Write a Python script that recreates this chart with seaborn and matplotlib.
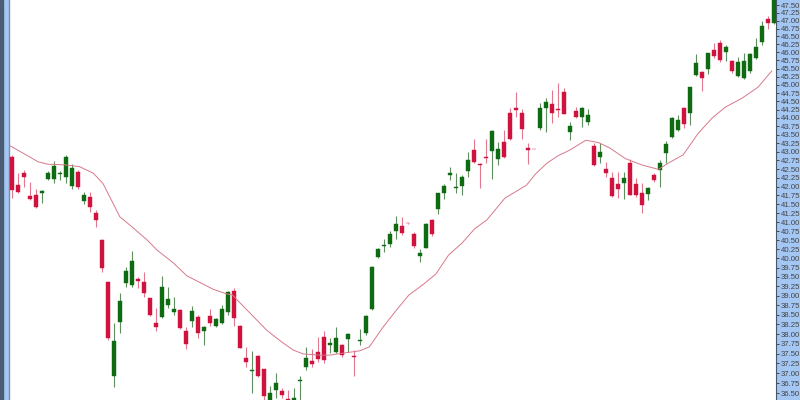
# candlestick chart with moving average, log price axis on the right
import numpy as np
import pandas as pd
import matplotlib
matplotlib.use("Agg")
import matplotlib.pyplot as plt
from matplotlib.patches import Rectangle
from matplotlib.ticker import FixedLocator, FormatStrFormatter, NullLocator
import seaborn as sns

# ======== DATA =========
opens = [42.86, 42.04, 42.38, 41.73, 41.76, 41.81, 42.22, 42.22, 42.35, 42.26,
         42.01, 42.42, 41.60, 41.71, 41.26, 40.50, 39.37, 36.93, 38.32, 39.35,
         39.28, 39.44, 39.37, 38.93, 38.29, 38.45, 38.76, 38.56, 38.62, 38.09,
         38.35, 38.43, 38.07, 38.47, 38.21, 38.28, 38.58, 39.13, 38.21, 37.38,
         37.05, 37.45, 37.10, 36.27, 36.58, 36.56, 36.36, 36.24, 36.80, 37.15,
         37.32, 37.55, 37.92, 37.72, 37.55, 37.73, 37.86, 37.44, 37.82, 38.03,
         38.64, 40.03, 40.34, 40.39, 40.76, 40.90, 40.97, 40.67, 40.07, 40.29,
         41.06, 41.36, 41.82, 42.33, 41.96, 42.02, 42.45, 43.05, 42.63, 42.86,
         43.03, 42.78, 43.29, 44.14, 44.30, 44.14, 43.10, 43.08, 43.69, 44.29,
         44.42, 44.26, 44.79, 43.59, 44.21, 44.02, 43.89, 43.17, 42.86, 42.49,
         42.23, 42.07, 42.09, 42.68, 42.06, 41.82, 41.79, 42.33, 42.47, 42.96,
         43.43, 43.64, 44.29, 44.14, 45.30, 45.40, 45.48, 46.08, 46.30, 46.02,
         45.74, 45.27, 45.20, 45.43, 45.83, 46.34, 47.05, 46.94]
highs = [42.91, 42.38, 42.47, 42.14, 41.92, 41.90, 42.45, 42.74, 42.45, 42.91,
         42.64, 42.47, 41.85, 41.84, 41.34, 40.53, 39.40, 38.29, 39.06, 39.78,
         40.21, 39.51, 39.64, 38.94, 38.68, 39.52, 39.24, 38.97, 38.65, 38.19,
         38.73, 38.49, 38.21, 38.64, 38.42, 38.76, 39.13, 39.20, 38.23, 37.67,
         37.56, 37.46, 37.11, 36.68, 37.00, 36.63, 36.58, 36.63, 36.94, 37.67,
         37.61, 37.92, 38.09, 37.89, 38.19, 37.74, 38.03, 37.59, 38.14, 38.49,
         39.80, 40.28, 40.52, 40.76, 41.17, 41.15, 40.98, 40.73, 40.25, 40.98,
         41.08, 41.82, 42.07, 42.57, 42.38, 42.33, 43.00, 43.37, 42.67, 43.37,
         43.63, 43.30, 43.64, 44.29, 44.79, 44.27, 43.27, 43.08, 44.44, 44.59,
         44.84, 45.04, 44.89, 43.89, 44.34, 44.34, 44.26, 43.25, 43.25, 42.71,
         42.42, 42.42, 42.42, 42.78, 42.23, 42.11, 41.99, 42.40, 42.76, 43.33,
         44.02, 44.09, 44.34, 44.94, 45.95, 45.43, 45.99, 46.30, 46.39, 46.23,
         45.76, 45.87, 45.97, 45.97, 46.44, 47.00, 47.15, 48.30]
lows = [41.67, 41.82, 41.99, 41.62, 41.40, 41.54, 42.19, 42.09, 42.19, 42.09,
        41.92, 41.92, 41.50, 41.29, 40.87, 39.64, 37.85, 36.65, 38.02, 39.24,
        39.24, 39.20, 38.97, 38.47, 38.08, 38.41, 38.67, 38.49, 38.12, 37.61,
        38.19, 37.89, 37.72, 38.21, 38.17, 38.26, 38.49, 38.21, 37.63, 37.17,
        36.50, 36.92, 36.34, 36.20, 36.38, 36.38, 36.17, 36.14, 36.29, 37.08,
        37.17, 37.29, 37.25, 37.51, 37.51, 37.40, 37.55, 36.93, 37.72, 37.98,
        38.62, 40.00, 40.18, 40.30, 40.52, 40.64, 40.95, 40.29, 39.91, 40.28,
        40.61, 41.22, 41.64, 42.19, 41.81, 41.76, 42.28, 42.68, 41.95, 42.68,
        42.21, 42.62, 42.81, 43.36, 44.04, 43.37, 42.64, 43.07, 43.64, 43.57,
        43.84, 44.04, 44.12, 43.35, 43.99, 43.74, 43.79, 42.59, 42.67, 42.28,
        41.71, 41.67, 41.64, 41.76, 41.71, 41.24, 41.62, 42.14, 41.99, 42.67,
        43.40, 43.62, 43.69, 43.79, 45.27, 44.82, 45.33, 45.82, 45.71, 45.74,
        45.35, 45.23, 45.17, 45.37, 45.78, 46.23, 46.73, 46.90]
closes = [41.90, 41.85, 42.26, 41.65, 41.43, 41.87, 42.38, 42.59, 42.37, 42.84,
          42.54, 41.98, 41.76, 41.41, 41.06, 39.73, 37.89, 37.83, 38.86, 39.66,
          39.94, 39.39, 39.06, 38.49, 38.17, 39.22, 38.91, 38.65, 38.15, 37.74,
          38.61, 38.02, 38.17, 38.29, 38.39, 38.65, 39.11, 38.41, 37.65, 37.28,
          37.06, 36.93, 36.44, 36.50, 36.77, 36.46, 36.24, 36.39, 36.81, 37.38,
          37.24, 37.35, 37.34, 37.78, 37.89, 37.46, 37.99, 37.40, 37.83, 38.48,
          39.78, 40.25, 40.37, 40.66, 40.95, 40.69, 40.96, 40.35, 40.14, 40.95,
          40.67, 41.81, 42.01, 42.40, 41.98, 42.28, 42.76, 42.71, 42.61, 42.81,
          43.61, 43.07, 42.86, 43.37, 44.24, 43.66, 43.05, 43.07, 44.31, 44.49,
          44.16, 44.24, 44.12, 43.77, 44.04, 44.31, 44.09, 42.62, 43.00, 42.40,
          41.73, 41.93, 42.23, 41.76, 41.76, 41.48, 41.97, 42.19, 42.68, 43.23,
          43.99, 43.94, 43.82, 44.92, 45.68, 45.22, 45.97, 45.89, 45.76, 46.18,
          45.42, 45.71, 45.74, 45.95, 46.18, 46.83, 46.92, 47.95]

# moving average at these bar positions
ma_x = [-0.6, 0, 4.4, 6, 9, 11.3, 13.6, 15.2, 16.9, 18, 20.3, 22.6, 24.2, 27,
        29.2, 31.4, 33.6, 35.8, 36.8, 38, 40.3, 42.5, 44.7, 46.9, 48.6, 51.4,
        53, 55.2, 58, 59.6, 61.8, 64, 66.2, 68.5, 70.7, 72.8, 75, 77.2, 79.2,
        82.2, 85.8, 87.3, 89.2, 91, 93, 95.7, 97.8, 99.7, 102.3, 105, 107.8,
        109.4, 111.9, 114.4, 116.7, 118.9, 121.7, 124.4, 126.7]
ma_vals = [43.20, 43.15, 42.71, 42.64, 42.62, 42.57, 42.38, 42.09, 41.52, 41.15,
           40.83, 40.50, 40.23, 39.87, 39.53, 39.35, 39.17, 39.05, 39.02, 38.82,
           38.45, 38.10, 37.83, 37.59, 37.49, 37.46, 37.46, 37.51, 37.57, 37.67,
           38.16, 38.60, 39.02, 39.29, 39.58, 40.09, 40.41, 40.82, 41.06, 41.67,
           42.04, 42.36, 42.67, 42.88, 43.05, 43.34, 43.27, 43.11, 42.80, 42.62,
           42.49, 42.67, 42.91, 43.54, 43.99, 44.32, 44.59, 44.93, 45.43]

price_ticks = np.arange(36.50, 47.51, 0.25)

df = pd.DataFrame({'open': opens, 'high': highs, 'low': lows, 'close': closes})
df['bar'] = np.arange(len(df))
df['up'] = df['close'] >= df['open']

# ======== STYLE =========
sns.set_style("white")
plt.rcParams['font.family'] = ['Liberation Sans', 'DejaVu Sans']

panel_blue = '#a4c6f2'
green = '#0e6b12'
red = '#d0123f'

fig = plt.figure(figsize=(8, 4), dpi=100, facecolor=panel_blue)
ax = fig.add_axes([9 / 800, 0, 767 / 800, 1])
ax.set_facecolor('white')
fig.patches.append(Rectangle((0, 0), 2.5 / 800, 1, transform=fig.transFigure,
                             color='#4c5c74', zorder=0))

# ======== CANDLES =========
colors = np.where(df['up'], green, red)
wick_colors = np.where(df['up'], '#5f8f5f', '#e07890')
ax.vlines(df['bar'], df['low'], df['high'], colors=wick_colors, lw=0.8, zorder=2)
body_low = np.minimum(df['open'], df['close'])
body_h = np.maximum((df['close'] - df['open']).abs(), 0.025)
ax.bar(df['bar'], body_h, bottom=body_low, width=0.72, color=colors,
       edgecolor=colors, linewidth=0.3, zorder=3)

sns.lineplot(x=ma_x, y=ma_vals, ax=ax, color='#d7788a', lw=0.7, zorder=4)

# ======== AXES =========
ax.set_yscale('log')
ax.set_ylim(36.337, 47.665)
ax.set_xlim(-0.45, 127.38)
ax.yaxis.set_major_locator(FixedLocator(price_ticks))
ax.yaxis.set_major_formatter(FormatStrFormatter('%.2f'))
ax.yaxis.set_minor_locator(NullLocator())
ax.yaxis.tick_right()
ax.tick_params(axis='y', direction='out', length=2.5, width=0.6, color='#333333',
               labelsize=5.6, labelcolor='#444444', pad=1)
ax.set_xticks([])
ax.set_xlabel('')
ax.set_ylabel('')
for side in ['top', 'bottom']:
    ax.spines[side].set_visible(False)
ax.spines['right'].set_color('#4a5568')
ax.spines['right'].set_linewidth(0.8)
ax.spines['left'].set_color('#7d8ca6')
ax.spines['left'].set_linewidth(1.0)

fig.savefig('out.png', dpi=100, facecolor=fig.get_facecolor())
